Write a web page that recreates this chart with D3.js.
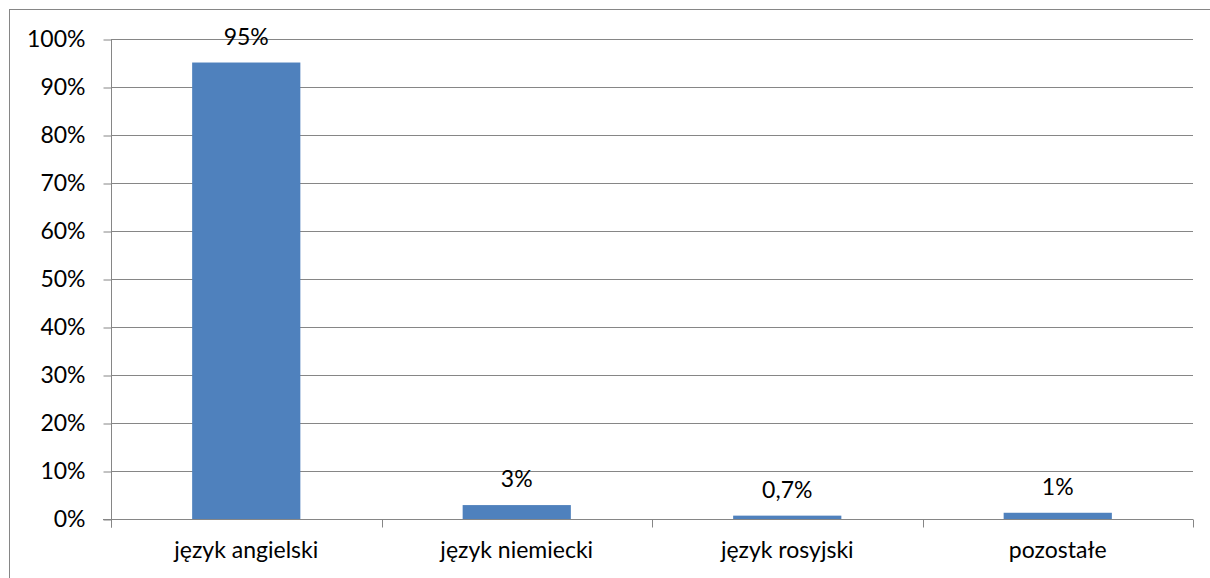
<!DOCTYPE html>
<html><head><meta charset="utf-8">
<script src="https://cdn.jsdelivr.net/npm/d3@7"></script>
<style>body{margin:0;background:#fff}svg{display:block}text{font-family:Lato,"Liberation Sans",Arial,sans-serif;fill:#000}</style>
</head><body>
<svg id="c" width="1210" height="578"></svg>
<script>
const categories = ["język angielski","język niemiecki","język rosyjski","pozostałe"];
const values = [95.1, 2.9, 0.7, 1.3];
const valueLabels = ["95%","3%","0,7%","1%"];
const yTicks = [0,10,20,30,40,50,60,70,80,90,100];

const FONT = "Lato, Liberation Sans, Arial, sans-serif";
const FS = 23;
const svg = d3.select("#c");
const L = 111, R = 1193, T = 39, B = 519;
const grey = "#868686";
svg.append("rect").attr("x",9.5).attr("y",9.5).attr("width",1220).attr("height",600)
  .attr("fill","none").attr("stroke",grey).attr("stroke-width",1);

const x = d3.scaleBand().domain(categories).range([L,R]).paddingInner(0.6).paddingOuter(0.3);
const y = d3.scaleLinear().domain([0,100]).range([B,T]);

// gridlines
svg.append("g").selectAll("line").data(yTicks.filter(d=>d>0)).join("line")
  .attr("x1",L).attr("x2",R).attr("y1",d=>Math.round(y(d))+0.5).attr("y2",d=>Math.round(y(d))+0.5)
  .attr("stroke",grey).attr("stroke-width",1);

// bars
svg.append("g").selectAll("rect").data(values).join("rect")
  .attr("x",(d,i)=>x(categories[i])).attr("width",x.bandwidth())
  .attr("y",d=>y(d)).attr("height",d=>B-y(d)).attr("fill","#4f81bd");

// y axis
const ya = svg.append("g").attr("transform",`translate(${L+0.5},0.5)`)
  .call(d3.axisLeft(y).tickValues(yTicks).tickFormat(d=>d+"%").tickSize(8).tickPadding(18));
ya.select(".domain").attr("stroke",grey).attr("d",`M0,${T}V${B+8}`);
ya.selectAll(".tick line").attr("stroke",grey);
ya.selectAll("text").attr("font-size",FS).attr("font-family",FONT).attr("fill","#000");

// x axis
const xa = svg.append("g").attr("transform",`translate(0,${B+0.5})`);
xa.append("line").attr("x1",L-8).attr("x2",R).attr("stroke",grey);
const step = (R-L)/categories.length;
xa.selectAll("line.t").data(d3.range(categories.length+1)).join("line").attr("class","t")
  .attr("x1",i=>Math.round(L+i*step)+0.5).attr("x2",i=>Math.round(L+i*step)+0.5)
  .attr("y1",0).attr("y2",8).attr("stroke",grey);
xa.selectAll("text").data(categories).join("text")
  .attr("x",d=>x(d)+x.bandwidth()/2).attr("y",38).attr("text-anchor","middle")
  .attr("font-size",FS).attr("font-family",FONT).text(d=>d);

// value labels
svg.append("g").selectAll("text").data(values).join("text")
  .attr("x",(d,i)=>x(categories[i])+x.bandwidth()/2).attr("y",d=>y(d)-18)
  .attr("text-anchor","middle").attr("font-size",FS).attr("font-family",FONT).text((d,i)=>valueLabels[i]);
</script>
</body></html>
